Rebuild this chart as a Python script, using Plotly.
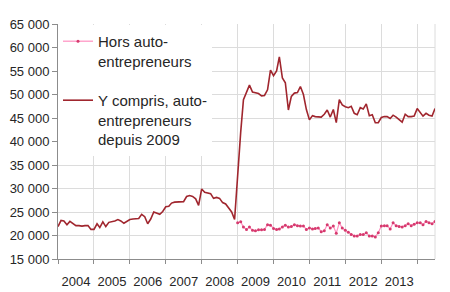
import plotly.graph_objects as go
import pandas as pd

# Monthly data, Jan 2004 - Jul 2014
start_month = "2004-01-01"
total_values = [
    21900, 23200, 23100, 22300, 23000, 22600, 22100, 22100, 22000, 22100, 22100, 21300,  # 2004
    21300, 22500, 21700, 22900, 21900, 22800, 22900, 23100, 23400, 23100, 22600, 23000,  # 2005
    23400, 23500, 23600, 23600, 24500, 24000, 22500, 23500, 25000, 24700, 24500, 25100,  # 2006
    26100, 26200, 26900, 27100, 27100, 27200, 27200, 28300, 28500, 28300, 27800, 26400,  # 2007
    29900, 29200, 29000, 28900, 27900, 28100, 27900, 27000, 26700, 25800, 25000, 23400,  # 2008
    34000, 42000, 48900, 50400, 52000, 50500, 50400, 50200, 49700, 49800, 51000, 55200,  # 2009
    54000, 55000, 58000, 53500, 52500, 46700, 49600, 50300, 50400, 51700, 50000, 46800,  # 2010
    44600, 45500, 45300, 45300, 45200, 45800, 46700, 45200, 46800, 44000, 48900, 47800,  # 2011
    47400, 47200, 47500, 46000, 45700, 47200, 46900, 48000, 45500, 45700, 44000, 44000,  # 2012
    45100, 45300, 45300, 44900, 45600, 45200, 44700, 44100, 45800, 45300, 45300, 45400,  # 2013
    47000, 46200, 45400, 46000, 45600, 45400, 47000,                                     # 2014
]
# "Hors auto-entrepreneurs", Jan 2009 - Jul 2014
hors_start = "2009-01-01"
hors_values = [
    22700, 22900, 21800, 21300, 21800, 21100, 21000, 21200, 21200, 21300, 22300, 22200,  # 2009
    21500, 21300, 21400, 21800, 22200, 21800, 21900, 22300, 22100, 22000, 22000, 21300,  # 2010
    21600, 21400, 21500, 21600, 20800, 21000, 22300, 21600, 22000, 20500, 22700, 21600,  # 2011
    21100, 20700, 20200, 19900, 19900, 20200, 20200, 20600, 19900, 19900, 19700, 20600,  # 2012
    22000, 22100, 22100, 21400, 22700, 22100, 21900, 21800, 22100, 22500, 22100, 22400,  # 2013
    22700, 22700, 22300, 23000, 22700, 22500, 23000,                                     # 2014
]
years = list(range(2004, 2014))
year_labels = [str(y) for y in years]
name_hors = "Hors auto-<br>entrepreneurs"
name_total = "Y compris, auto-<br>entrepreneurs<br>depuis 2009"

total_dates = pd.date_range(start_month, periods=len(total_values), freq="MS")
hors_dates = pd.date_range(hors_start, periods=len(hors_values), freq="MS")

fig = go.Figure()
fig.add_trace(go.Scatter(
    x=hors_dates, y=hors_values, name=name_hors, mode="lines+markers",
    line=dict(color="#ff8fc0", width=1.2),
    marker=dict(color="#d63a6e", size=3),
    legendgroup="a",
))
fig.add_trace(go.Scatter(
    x=total_dates, y=total_values, name=name_total, mode="lines",
    line=dict(color="#a0262e", width=1.6),
    legendgroup="b",
))

font = "Liberation Sans, Arial, sans-serif"
fig.update_layout(
    width=450, height=292,
    margin=dict(l=58, r=15, t=24, b=33, autoexpand=False),
    paper_bgcolor="white", plot_bgcolor="white",
    separators=", ",
    font=dict(family=font, size=13, color="#262626"),
    showlegend=True,
    legend=dict(
        x=0.0, y=0.996, xanchor="left", yanchor="top",
        bgcolor="white", font=dict(size=15, family=font, color="#262626"),
        valign="top", traceorder="grouped", tracegroupgap=17,
    ),
    xaxis=dict(
        type="date",
        automargin=False,
        range=[total_dates[0], total_dates[-1]],
        tickmode="array",
        tickvals=[f"{y}-07-02" for y in years],
        ticktext=year_labels,
        ticks="outside", ticklen=10, tickcolor="rgba(0,0,0,0)",
        showgrid=False,
        showline=True, linecolor="#8c8c8c", linewidth=1,
        minor=dict(
            tickmode="array",
            tickvals=[f"{y}-01-01" for y in range(2004, 2015)],
            ticks="outside", ticklen=4, tickcolor="#8c8c8c",
            showgrid=True, gridcolor="#dcdcdc", gridwidth=1,
        ),
        zeroline=False,
    ),
    yaxis=dict(
        automargin=False,
        range=[15000, 65000], dtick=5000, tick0=15000,
        tickformat=",d",
        ticks="outside", ticklen=5, tickcolor="#8c8c8c",
        showgrid=True, gridcolor="#dcdcdc", gridwidth=1,
        showline=True, linecolor="#8c8c8c", linewidth=1,
        zeroline=False,
    ),
)
fig.add_shape(type="line", xref="paper", yref="paper", x0=1, x1=1, y0=0, y1=1,
              line=dict(color="#dcdcdc", width=1), layer="below")

fig.write_html("out.html")
